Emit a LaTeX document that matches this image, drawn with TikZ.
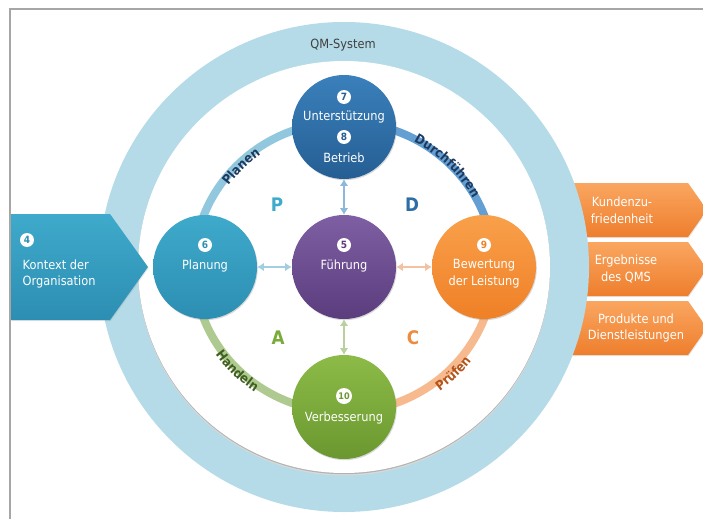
\documentclass[tikz,border=0pt]{standalone}
\usepackage{fontspec}
\setmainfont{DejaVu Sans}[FakeStretch=0.9]
\usetikzlibrary{calc, arrows.meta, shadows, decorations.text}

\definecolor{frameC}{HTML}{A6A6A6}
\definecolor{ringC}{HTML}{B4DBE7}
\definecolor{planC}{HTML}{3FAACB}
\definecolor{planD}{HTML}{2C8EB2}
\definecolor{suppC}{HTML}{3A80BB}
\definecolor{suppD}{HTML}{255E93}
\definecolor{leadC}{HTML}{7E5FA3}
\definecolor{leadD}{HTML}{5B3C7D}
\definecolor{evalC}{HTML}{F9A04B}
\definecolor{evalD}{HTML}{EF8026}
\definecolor{impC}{HTML}{8DBB48}
\definecolor{impD}{HTML}{6A982F}
\definecolor{outC}{HTML}{FAA660}
\definecolor{outD}{HTML}{EE7E2D}
\definecolor{bandP}{HTML}{92C8DD}
\definecolor{bandD}{HTML}{639FD2}
\definecolor{bandC}{HTML}{F7BA8E}
\definecolor{bandA}{HTML}{AECA90}
\definecolor{linkU}{HTML}{8EB8DB}
\definecolor{linkP}{HTML}{A2CEE1}
\definecolor{linkC}{HTML}{F3C2A2}
\definecolor{linkA}{HTML}{B9D1A1}
\definecolor{wordD}{HTML}{1F3A5F}
\definecolor{wordA}{HTML}{3F5E1F}
\definecolor{wordC}{HTML}{B4541A}
\definecolor{letD}{HTML}{2D6EA6}
\definecolor{letA}{HTML}{7AAB3A}
\definecolor{letC}{HTML}{EF8B3C}

\begin{document}
\begin{tikzpicture}[x=0.75pt, y=0.75pt,
  proc/.style={circle, minimum size=78pt, inner sep=0pt, drop shadow={opacity=.3, shadow xshift=.6pt, shadow yshift=-.9pt}},
  num/.style={circle, fill=white, inner sep=0pt, minimum size=10.5pt, text=#1, font=\fontsize{7.5}{7.5}\selectfont\bfseries},
  txt/.style={text=white, align=center, font=\fontsize{9.5}{12.5}\selectfont},
  phase/.style={text=#1, font=\fontsize{14}{14}\selectfont\bfseries},
  band/.style={draw=#1, line width=6pt},
  link/.style={draw=#1, line width=2pt, arrows={Latex[length=5pt,width=6.5pt]-Latex[length=5pt,width=6.5pt]}},
  outbox/.style={top color=outC, bottom color=outD, drop shadow={opacity=.2, shadow xshift=.5pt, shadow yshift=-.8pt}}]
  \useasboundingbox (0,0) rectangle (703,519);
  \clip (0,0) rectangle (703,519);
  \coordinate (c) at (344,252);

  \draw[frameC, line width=.8pt] (10,0) -- (10,510) -- (703,510);

  \shade[outbox] (560,336) -- (688,336) -- (707,309) -- (688,282) -- (560,282) -- cycle;
  \shade[outbox] (560,277) -- (688,277) -- (707,250) -- (688,223) -- (560,223) -- cycle;
  \shade[outbox] (560,218) -- (688,218) -- (707,191) -- (688,164) -- (560,164) -- cycle;

  \fill[ringC] (c) circle (245);
  \fill[black!15] (344,249.5) circle (206);
  \fill[black!30] (344,250.8) circle (206);
  \fill[white] (c) circle (206);

  \shade[top color=planC, bottom color=planD, drop shadow={opacity=.2, shadow xshift=.5pt, shadow yshift=-.8pt}] (11,305) -- (110,305) -- (148,252) -- (110,199) -- (11,199) -- cycle;

  \draw[band=bandP] ($(c)+(180:150 and 145)$) arc[start angle=180, end angle=90, x radius=150, y radius=145];
  \draw[band=bandD] ($(c)+(90:150 and 145)$) arc[start angle=90, end angle=0, x radius=150, y radius=145];
  \draw[band=bandC] ($(c)+(0:150 and 145)$) arc[start angle=0, end angle=-90, x radius=150, y radius=145];
  \draw[band=bandA] ($(c)+(270:150 and 145)$) arc[start angle=270, end angle=180, x radius=150, y radius=145];

  \path[decorate, decoration={text along path, text align=center, text={|\fontsize{9.8}{9.8}\selectfont\bfseries\color{wordD}|Planen}}] ($(c)+(165:143 and 138)$) arc[start angle=165, end angle=105, x radius=143, y radius=138];
  \path[decorate, decoration={text along path, text align=center, text={|\fontsize{9.8}{9.8}\selectfont\bfseries\color{wordD}|Durchführen}}] ($(c)+(82:147 and 142)$) arc[start angle=82, end angle=8, x radius=147, y radius=142];
  \path[decorate, decoration={text along path, text align=center, text={|\fontsize{9.8}{9.8}\selectfont\bfseries\color{wordC}|Prüfen}}] ($(c)+(285:160 and 155)$) arc[start angle=285, end angle=345, x radius=160, y radius=155];
  \path[decorate, decoration={text along path, text align=center, text={|\fontsize{9.8}{9.8}\selectfont\bfseries\color{wordA}|Handeln}}] ($(c)+(195:157 and 152)$) arc[start angle=195, end angle=255, x radius=157, y radius=152];

  \node[proc, top color=planC, bottom color=planD] (pla) at (205,252) {};
  \node[proc, top color=leadC, bottom color=leadD] (fue) at (344,252) {};
  \node[proc, top color=evalC, bottom color=evalD] (bew) at (484,252) {};
  \node[proc, top color=suppC, bottom color=suppD] (ust) at (344,392) {};
  \node[proc, top color=impC, bottom color=impD] (ver) at (344,112) {};

  \draw[link=linkU] (fue) -- (ust);
  \draw[link=linkP] (fue) -- (pla);
  \draw[link=linkC] (fue) -- (bew);
  \draw[link=linkA] (fue) -- (ver);

  \node[num=planD] (pla-n) at (205,274) {6};
  \node[txt] (pla-t) at (205,253) {Planung};
  \node[num=leadD] (fue-n) at (344,274) {5};
  \node[txt] (fue-t) at (344,253) {Führung};
  \node[num=evalD] (bew-n) at (484,274) {9};
  \node[txt] (bew-t) at (484,245) {Bewertung\\der Leistung};
  \node[num=suppD] (ust-n1) at (344,422) {7};
  \node[txt] (ust-t1) at (344,402) {Unterstützung};
  \node[num=suppD] (ust-n2) at (344,382) {8};
  \node[txt] (ust-t2) at (344,361) {Betrieb};
  \node[num=impD, minimum size=12pt, font=\fontsize{6.8}{6.8}\selectfont\bfseries] (ver-n) at (344,123) {10};
  \node[txt] (ver-t) at (344,101) {Verbesserung};

  \node[num=planD] (kx-n) at (27,279) {4};
  \node[txt, anchor=west, align=left] (kx-t) at (18,245) {Kontext der\\Organisation};

  \node[txt] (out1) at (622,309) {Kundenzu-\\friedenheit};
  \node[txt] (out2) at (626,250) {Ergebnisse\\des QMS};
  \node[txt] (out3) at (636,191) {Produkte und\\Dienstleistungen};

  \node[text=black!75, font=\fontsize{9.5}{9.5}\selectfont] (qm) at (343,474) {QM-System};

  \node[phase=planC] (ph-p) at (277,314) {P};
  \node[phase=letD] (ph-d) at (412,314) {D};
  \node[phase=letA] (ph-a) at (278,181) {A};
  \node[phase=letC] (ph-c) at (413,181) {C};
\end{tikzpicture}
\end{document}
